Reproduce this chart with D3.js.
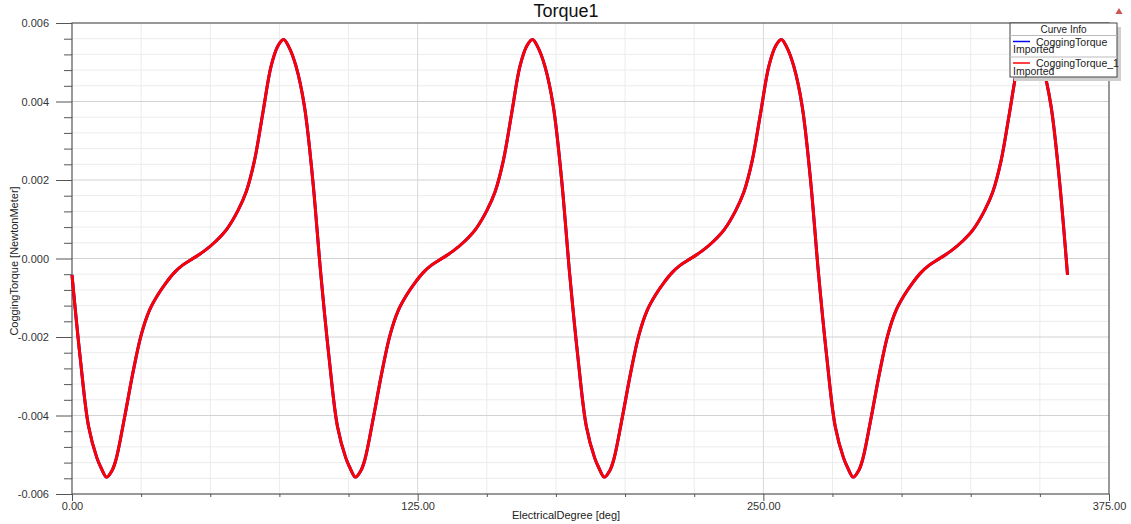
<!DOCTYPE html>
<html>
<head>
<meta charset="utf-8">
<script src="https://cdn.jsdelivr.net/npm/d3@7"></script>
<style>
  body { margin: 0; background: #fff; }
  svg { display: block; font-family: "Liberation Sans", Arial, sans-serif; }
</style>
</head>
<body>
<svg id="chart" width="1131" height="524"></svg>
<script>
// electrical degree samples (non uniform, denser near peaks)
const degrees = [
  0, 3, 6, 9, 10.5, 12.5, 14.5, 16, 19, 22, 25, 28, 31, 34, 37, 40, 44, 48, 52, 56, 60, 63, 66, 69, 72, 74.5, 76.5, 78.5, 81, 84, 87,
  90, 93, 96, 99, 100.5, 102.5, 104.5, 106, 109, 112, 115, 118, 121, 124, 127, 130, 134, 138, 142, 146, 150, 153, 156, 159, 162, 164.5, 166.5, 168.5, 171, 174, 177,
  180, 183, 186, 189, 190.5, 192.5, 194.5, 196, 199, 202, 205, 208, 211, 214, 217, 220, 224, 228, 232, 236, 240, 243, 246, 249, 252, 254.5, 256.5, 258.5, 261, 264, 267,
  270, 273, 276, 279, 280.5, 282.5, 284.5, 286, 289, 292, 295, 298, 301, 304, 307, 310, 314, 318, 322, 326, 330, 333, 336, 339, 342, 344.5, 346.5, 348.5, 351, 354, 357,
  360
];

// cogging torque [NewtonMeter]
const torque = [
  -0.00042, -0.00255, -0.00428, -0.00508, -0.00533, -0.00557, -0.00540, -0.00510, -0.00405, -0.00292, -0.00195, -0.00132, -0.00093, -0.00062, -0.00036, -0.00017, 0.00001, 0.00020, 0.00044, 0.00075, 0.00122, 0.00170, 0.00250, 0.00370, 0.00490, 0.00542, 0.00558, 0.00538, 0.00490, 0.00390, 0.00205,
  -0.00042, -0.00255, -0.00428, -0.00508, -0.00533, -0.00557, -0.00540, -0.00510, -0.00405, -0.00292, -0.00195, -0.00132, -0.00093, -0.00062, -0.00036, -0.00017, 0.00001, 0.00020, 0.00044, 0.00075, 0.00122, 0.00170, 0.00250, 0.00370, 0.00490, 0.00542, 0.00558, 0.00538, 0.00490, 0.00390, 0.00205,
  -0.00042, -0.00255, -0.00428, -0.00508, -0.00533, -0.00557, -0.00540, -0.00510, -0.00405, -0.00292, -0.00195, -0.00132, -0.00093, -0.00062, -0.00036, -0.00017, 0.00001, 0.00020, 0.00044, 0.00075, 0.00122, 0.00170, 0.00250, 0.00370, 0.00490, 0.00542, 0.00558, 0.00538, 0.00490, 0.00390, 0.00205,
  -0.00042, -0.00255, -0.00428, -0.00508, -0.00533, -0.00557, -0.00540, -0.00510, -0.00405, -0.00292, -0.00195, -0.00132, -0.00093, -0.00062, -0.00036, -0.00017, 0.00001, 0.00020, 0.00044, 0.00075, 0.00122, 0.00170, 0.00250, 0.00370, 0.00490, 0.00542, 0.00558, 0.00538, 0.00490, 0.00390, 0.00205,
  -0.00042
];

const seriesNames = ['CoggingTorque', 'CoggingTorque_1'];
const seriesColors = ['#0000ff', '#ff0000'];

const xMajor = [0, 125, 250, 375];
const xMinor = [25, 50, 75, 100, 150, 175, 200, 225, 275, 300, 325, 350];
const yMajor = [-0.006, -0.004, -0.002, 0, 0.002, 0.004, 0.006];
const yMinor = [-0.0056, -0.0052, -0.0048, -0.0044, -0.0036, -0.0032, -0.0028, -0.0024,
  -0.0016, -0.0012, -0.0008, -0.0004, 0.0004, 0.0008, 0.0012, 0.0016,
  0.0024, 0.0028, 0.0032, 0.0036, 0.0044, 0.0048, 0.0052, 0.0056];

const margin = {left: 72, right: 1109, top: 23, bottom: 494};

const svg = d3.select('#chart');

const x = d3.scaleLinear().domain([0, 375]).range([margin.left, margin.right]);
const y = d3.scaleLinear().domain([-0.006, 0.006]).range([margin.bottom, margin.top]);

// grid
const grid = svg.append('g').attr('id', 'grid');
grid.selectAll('line.hmin').data(yMinor).join('line')
  .attr('x1', margin.left).attr('x2', margin.right)
  .attr('y1', d => y(d)).attr('y2', d => y(d))
  .attr('stroke', '#ececec').attr('stroke-width', 1);
grid.selectAll('line.vmin').data(xMinor).join('line')
  .attr('x1', d => x(d)).attr('x2', d => x(d))
  .attr('y1', margin.top).attr('y2', margin.bottom)
  .attr('stroke', '#ececec').attr('stroke-width', 1);
grid.selectAll('line.hmaj').data(yMajor.slice(1, -1)).join('line')
  .attr('x1', margin.left).attr('x2', margin.right)
  .attr('y1', d => y(d)).attr('y2', d => y(d))
  .attr('stroke', '#d2d2d2').attr('stroke-width', 1);
grid.selectAll('line.vmaj').data(xMajor.slice(1, -1)).join('line')
  .attr('x1', d => x(d)).attr('x2', d => x(d))
  .attr('y1', margin.top).attr('y2', margin.bottom)
  .attr('stroke', '#d8d8d8').attr('stroke-width', 1);

// axes
const axisColor = '#555';
function styleAxis(g) {
  g.select('.domain').remove();
  g.selectAll('line').attr('stroke', axisColor);
  g.selectAll('text').attr('fill', '#333').attr('font-size', 11)
    .attr('font-family', '"Liberation Sans", Arial, sans-serif');
}

svg.append('g').attr('transform', `translate(${margin.left},0)`)
  .call(d3.axisLeft(y).tickValues(yMinor).tickSize(8).tickFormat(''))
  .call(styleAxis);
svg.append('g').attr('transform', `translate(${margin.left},0)`)
  .call(d3.axisLeft(y).tickValues(yMajor).tickSize(16).tickPadding(7).tickFormat(d => d.toFixed(3)))
  .call(styleAxis);

svg.append('g').attr('transform', `translate(0,${margin.bottom})`)
  .call(d3.axisBottom(x).tickValues(xMinor).tickSize(3).tickFormat(''))
  .call(styleAxis);
svg.append('g').attr('transform', `translate(0,${margin.bottom})`)
  .call(d3.axisBottom(x).tickValues(xMajor).tickSize(7).tickPadding(1).tickFormat(d => d.toFixed(2)))
  .call(styleAxis);

// frame
svg.append('rect')
  .attr('x', margin.left).attr('y', margin.top)
  .attr('width', margin.right - margin.left).attr('height', margin.bottom - margin.top)
  .attr('fill', 'none').attr('stroke', axisColor).attr('stroke-width', 1.2);

// curves
const points = degrees.map((d, i) => [d, torque[i]]);
const line = d3.line().x(d => x(d[0])).y(d => y(d[1])).curve(d3.curveCatmullRom.alpha(0.5));

svg.append('g').attr('id', 'curves')
  .selectAll('path').data(seriesNames).join('path')
    .attr('d', line(points))
    .attr('fill', 'none')
    .attr('stroke', (d, i) => seriesColors[i])
    .attr('stroke-width', 3)
    .attr('stroke-linejoin', 'round');

// titles
svg.append('text').text('Torque1')
  .attr('x', 566).attr('y', 17).attr('text-anchor', 'middle')
  .attr('font-size', 18).attr('fill', '#111');

svg.append('text').text('ElectricalDegree [deg]')
  .attr('x', 566).attr('y', 519).attr('text-anchor', 'middle')
  .attr('font-size', 11).attr('fill', '#222');

svg.append('text').text('CoggingTorque [NewtonMeter]')
  .attr('transform', 'translate(18,261) rotate(-90)')
  .attr('text-anchor', 'middle')
  .attr('font-size', 11).attr('fill', '#222');

// legend
const lg = svg.append('g').attr('id', 'legend').attr('transform', 'translate(1010,23)');
lg.append('rect').attr('x', 4).attr('y', 4).attr('width', 107).attr('height', 54).attr('fill', '#cfcfcf');
lg.append('rect').attr('x', 0).attr('y', 0).attr('width', 107).attr('height', 54)
  .attr('fill', '#fff').attr('stroke', '#444').attr('stroke-width', 1);
lg.append('text').text('Curve Info').attr('x', 53.5).attr('y', 10)
  .attr('text-anchor', 'middle').attr('font-size', 10).attr('fill', '#222');
lg.append('line').attr('x1', 0).attr('x2', 107).attr('y1', 12.5).attr('y2', 12.5)
  .attr('stroke', '#bbb');
lg.append('line').attr('x1', 0).attr('x2', 107).attr('y1', 34).attr('y2', 34)
  .attr('stroke', '#bbb');

const rows = lg.selectAll('g.row').data(seriesNames).join('g')
  .attr('class', 'row')
  .attr('transform', (d, i) => `translate(0,${12.5 + i * 21.5})`);
rows.append('line').attr('x1', 3).attr('x2', 20).attr('y1', 6).attr('y2', 6)
  .attr('stroke', (d, i) => seriesColors[i]).attr('stroke-width', 1.5);
rows.append('text').text(d => d).attr('x', 26).attr('y', 10)
  .attr('font-size', 10.5).attr('fill', '#222');
rows.append('text').text('Imported').attr('x', 3).attr('y', 17.5)
  .attr('font-size', 10.5).attr('fill', '#222');

// small marker in the top right corner
svg.append('path')
  .attr('d', d3.symbol(d3.symbolTriangle, 22)())
  .attr('transform', 'translate(1119,12)')
  .attr('fill', '#c55');
</script>
</body>
</html>
